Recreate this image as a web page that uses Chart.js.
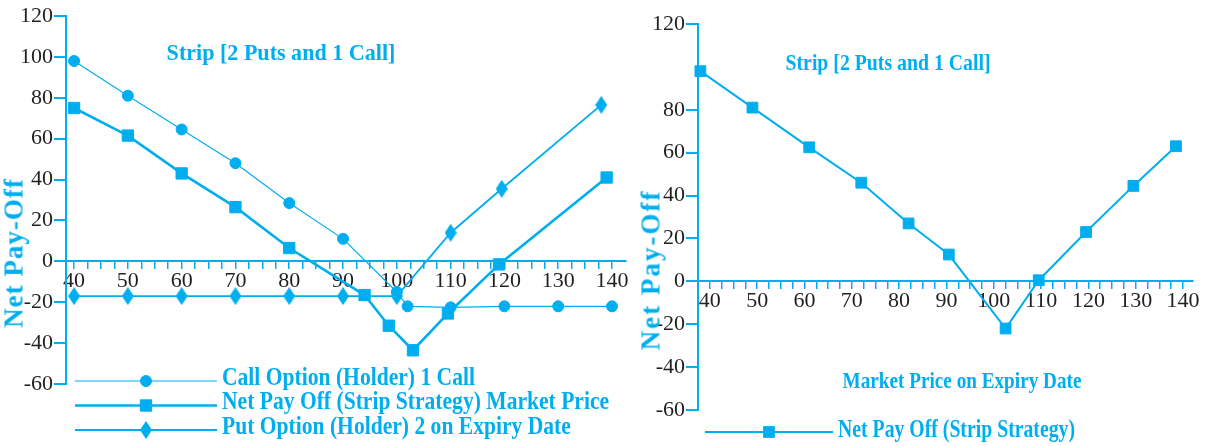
<!DOCTYPE html>
<html>
<head>
<meta charset="utf-8">
<title>Strip [2 Puts and 1 Call]</title>
<script src="https://cdn.jsdelivr.net/npm/chart.js@4.4.1/dist/chart.umd.min.js"></script>
<style>
  html, body { margin: 0; padding: 0; background: #ffffff; }
  body { width: 1209px; height: 446px; position: relative; overflow: hidden; }
  canvas { position: absolute; top: 0; }
  #leftChart { left: 0; }
  #rightChart { left: 640px; }
  .txt {
    position: absolute;
    font-family: 'Liberation Serif', 'Times New Roman', serif;
    font-weight: bold;
    color: #00aeef;
    white-space: nowrap;
    line-height: 1;
  }
</style>
</head>
<body>
<canvas id="leftChart" width="640" height="446"></canvas>
<canvas id="rightChart" width="569" height="446"></canvas>

<div class="txt" style="left:281px;top:52px;font-size:24px;transform:translate(-50%,-50%) scaleX(0.92);">Strip [2 Puts and 1 Call]</div>
<div class="txt" style="left:14px;top:253px;font-size:27px;letter-spacing:1px;transform:translate(-50%,-50%) rotate(-90deg);">Net Pay-Off</div>

<div class="txt" style="left:888px;top:62px;font-size:23px;transform:translate(-50%,-50%) scaleX(0.86);">Strip [2 Puts and 1 Call]</div>
<div class="txt" style="left:651px;top:270px;font-size:27px;letter-spacing:2px;transform:translate(-50%,-50%) rotate(-90deg);">Net Pay-Off</div>
<div class="txt" style="left:962px;top:380px;font-size:24px;transform:translate(-50%,-50%) scaleX(0.8);">Market Price on Expiry Date</div>

<script>
// ---- Axis tick values ----
const priceTicks = [40, 50, 60, 70, 80, 90, 100, 110, 120, 130, 140];
const leftPayoffTicks = [-60, -40, -20, 0, 20, 40, 60, 80, 100, 120];
const rightPayoffTicks = [-60, -40, -20, 0, 20, 40, 60, 80, 120];

// ---- Left panel series (market price -> pay-off) ----
const callPrice  = [40, 50, 60, 70, 80, 90, 100, 102, 110, 120, 130, 140];
const callPayoff = [98, 81, 64.5, 48, 28.5, 11, -15, -22, -22.5, -22, -22, -22];

const netPrice  = [40, 50, 60, 70, 80, 94, 98.5, 103, 109.5, 119, 139];
const netPayoff = [75, 61.5, 43, 26.5, 6.5, -16.5, -31.5, -43.5, -25.5, -1.5, 41];

const putPrice  = [40, 50, 60, 70, 80, 90, 100, 110, 119.5, 138];
const putPayoff = [-17, -17, -17, -17, -17, -17, -17, 14, 35.5, 76.5];

// ---- Right panel series ----
const stripPrice  = [38, 49, 61, 72, 82, 90.5, 102.5, 109.5, 119.5, 129.5, 138.5];
const stripPayoff = [98, 81, 62.5, 46, 27, 12.5, -22, 0.5, 23, 44.5, 63];

const CYAN = '#00aeef';
const INK = '#231f20';
const SERIF = "'Liberation Serif', 'Times New Roman', serif";

function pairs(xs, ys) {
  return xs.map((x, i) => ({ x: x, y: ys[i] }));
}

// Tall diamond marker
function makeDiamond(w, h) {
  const c = document.createElement('canvas');
  c.width = w; c.height = h;
  const g = c.getContext('2d');
  g.fillStyle = CYAN;
  g.beginPath();
  g.moveTo(w / 2, 0);
  g.lineTo(w, h / 2);
  g.lineTo(w / 2, h);
  g.lineTo(0, h / 2);
  g.closePath();
  g.fill();
  return c;
}
const diamond = makeDiamond(12, 18);

// Legend drawn as a long line with the series marker in its middle
const lineLegend = {
  id: 'lineLegend',
  afterDraw(chart, args, opts) {
    const ctx = chart.ctx;
    chart.data.datasets.forEach((ds, i) => {
      const y = opts.top + i * opts.rowGap;
      const x0 = opts.left;
      const x1 = opts.left + opts.lineLength;
      ctx.save();
      ctx.strokeStyle = ds.borderColor;
      ctx.fillStyle = ds.pointBackgroundColor;
      ctx.lineWidth = ds.borderWidth;
      ctx.beginPath();
      ctx.moveTo(x0, y);
      ctx.lineTo(x1, y);
      ctx.stroke();
      ctx.lineWidth = 1;
      Chart.helpers.drawPoint(ctx, {
        pointStyle: ds.pointStyle,
        radius: ds.pointRadius,
        rotation: 0,
        borderWidth: 1
      }, (x0 + x1) / 2, y);
      ctx.translate(x1 + opts.gap, y + opts.textOffset);
      ctx.scale(opts.scaleX, 1);
      ctx.font = 'bold ' + opts.fontSize + 'px ' + SERIF;
      ctx.fillStyle = CYAN;
      ctx.textBaseline = 'middle';
      ctx.textAlign = 'left';
      ctx.fillText(ds.label, 0, 0);
      ctx.restore();
    });
  }
};

function minorPriceTicks() {
  const out = [];
  for (let v = priceTicks[0]; v <= priceTicks[priceTicks.length - 1] + 0.001; v += 2.5) {
    out.push({ value: v });
  }
  return out;
}

function buildOptions(cfg) {
  return {
    responsive: false,
    devicePixelRatio: 1,
    animation: false,
    events: [],
    layout: { padding: cfg.padding },
    plugins: {
      legend: { display: false },
      title: { display: false },
      tooltip: { enabled: false },
      lineLegend: cfg.legend
    },
    scales: {
      x: {
        type: 'linear',
        min: cfg.xMin,
        max: cfg.xMax,
        position: { y: 0 },
        afterBuildTicks: (scale) => { scale.ticks = minorPriceTicks(); },
        border: { display: true, color: CYAN, width: 2 },
        grid: { drawOnChartArea: false, drawTicks: true, tickLength: 7, color: CYAN, lineWidth: 1.5 },
        ticks: {
          autoSkip: false,
          maxRotation: 0,
          padding: 0,
          color: INK,
          font: { family: SERIF, size: 22 },
          callback: (v) => priceTicks.includes(v) ? String(v) : ''
        }
      },
      y: {
        type: 'linear',
        min: -60,
        max: 120,
        position: 'left',
        afterFit: (scale) => { scale.width = cfg.yWidth; },
        afterBuildTicks: (scale) => { scale.ticks = cfg.yTicks.map(v => ({ value: v })); },
        border: { display: true, color: CYAN, width: 2 },
        grid: { drawOnChartArea: false, drawTicks: true, tickLength: 12, color: CYAN, lineWidth: 2 },
        ticks: {
          padding: 1,
          color: INK,
          font: { family: SERIF, size: 22 },
          callback: (v) => String(v)
        }
      }
    }
  };
}

function series(label, xs, ys, extra) {
  return Object.assign({
    label: label,
    data: pairs(xs, ys),
    borderColor: CYAN,
    backgroundColor: CYAN,
    pointBackgroundColor: CYAN,
    pointBorderColor: CYAN,
    pointBorderWidth: 1,
    tension: 0,
    fill: false,
    clip: false
  }, extra);
}

new Chart(document.getElementById('leftChart'), {
  type: 'line',
  data: {
    datasets: [
      series('Call Option (Holder) 1 Call', callPrice, callPayoff,
        { borderWidth: 1.2, pointStyle: 'circle', pointRadius: 5.5 }),
      series('Net Pay Off (Strip Strategy) Market Price', netPrice, netPayoff,
        { borderWidth: 2.6, pointStyle: 'rect', pointRadius: 8 }),
      series('Put Option (Holder) 2 on Expiry Date', putPrice, putPayoff,
        { borderWidth: 1.8, pointStyle: diamond, pointRadius: 8 })
    ]
  },
  options: buildOptions({
    padding: { left: 0, top: 16, right: 14, bottom: 62 },
    xMin: 38.5, xMax: 142.6,
    yWidth: 66,
    yTicks: leftPayoffTicks,
    legend: { left: 75, top: 381, rowGap: 24.5, lineLength: 142, gap: 5, textOffset: -3, fontSize: 26, scaleX: 0.83 }
  }),
  plugins: [lineLegend]
});

new Chart(document.getElementById('rightChart'), {
  type: 'line',
  data: {
    datasets: [
      series('Net Pay Off (Strip Strategy)', stripPrice, stripPayoff,
        { borderWidth: 2, pointStyle: 'rect', pointRadius: 7.6 })
    ]
  },
  options: buildOptions({
    padding: { left: 0, top: 24, right: 16, bottom: 36 },
    xMin: 37.5, xMax: 142.1,
    yWidth: 58,
    yTicks: rightPayoffTicks,
    legend: { left: 65, top: 432, rowGap: 0, lineLength: 128, gap: 5, textOffset: -2, fontSize: 26, scaleX: 0.76 }
  }),
  plugins: [lineLegend]
});
</script>
</body>
</html>
